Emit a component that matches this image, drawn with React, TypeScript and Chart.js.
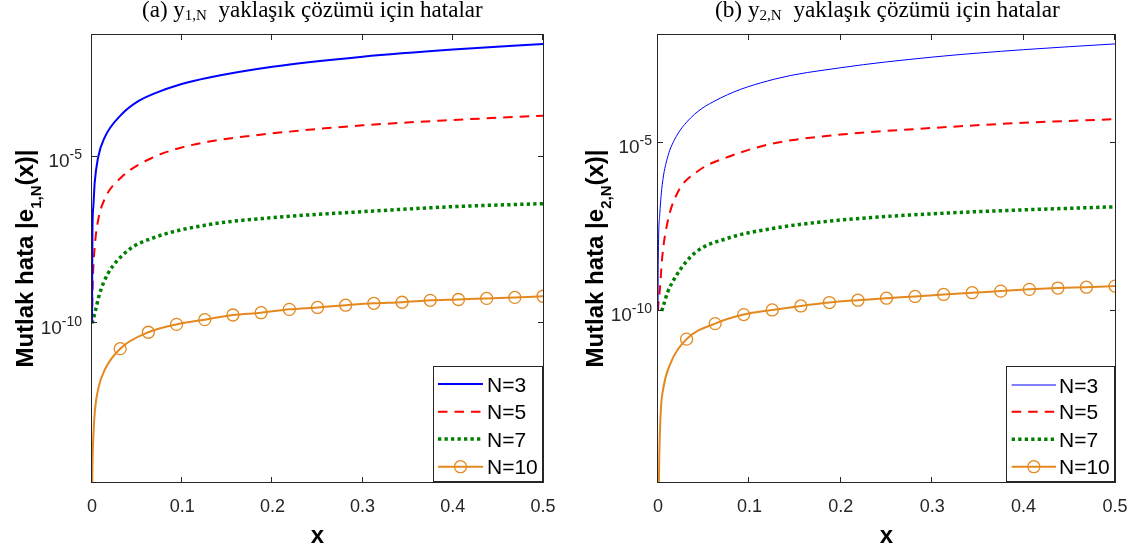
import React, { useEffect, useRef } from "react";
import { Chart, registerables } from "chart.js";
Chart.register(...registerables);

// ---------- shared labels / ticks ----------
const X_TICKS = [0, 0.1, 0.2, 0.3, 0.4, 0.5];
const X_TICK_LABELS = ["0", "0.1", "0.2", "0.3", "0.4", "0.5"];
const Y_TICKS = [1e-10, 1e-5];
const Y_TICK_EXP = ["-10", "-5"];
const LEGEND_LABELS = ["N=3", "N=5", "N=7", "N=10"];
const TITLE_REST = "  yaklaşık çözümü için hatalar";

// N=10 marker abscissae (every 1/32)
const N10_MARK_X = [0.03125, 0.0625, 0.09375, 0.125, 0.15625, 0.1875, 0.21875, 0.25, 0.28125, 0.3125, 0.34375, 0.375, 0.40625, 0.4375, 0.46875, 0.5];

// ---------- panel (a) ----------
const A_Y_MIN = 1.74e-15;
const A_Y_MAX = 4.47e-2;
const A_N3_X = [0, 0.0002, 0.0005, 0.0015, 0.003, 0.0067, 0.0141, 0.0325, 0.05, 0.0695, 0.0994, 0.1286, 0.2, 0.3, 0.4, 0.5];
const A_N3_Y = [1e-10, 2e-9, 6.3e-8, 3.2e-7, 1.66e-6, 9.3e-6, 3.8e-5, 1.82e-4, 4.4e-4, 7.9e-4, 1.51e-3, 2.34e-3, 5.0e-3, 1.0e-2, 1.64e-2, 2.4e-2];
const A_N5_X = [0, 0.0003, 0.0008, 0.003, 0.0067, 0.0141, 0.0325, 0.0695, 0.1, 0.1286, 0.2, 0.3, 0.4, 0.5];
const A_N5_Y = [1e-10, 3.2e-10, 1.6e-9, 1.95e-8, 1.2e-7, 5.4e-7, 2.4e-6, 1.0e-5, 1.9e-5, 2.8e-5, 5.0e-5, 8.7e-5, 1.26e-4, 1.7e-4];
const A_N7_X = [0, 0.003, 0.0085, 0.0177, 0.04, 0.0695, 0.1286, 0.2, 0.3, 0.4, 0.5];
const A_N7_Y = [1e-10, 1.95e-10, 7.8e-10, 3.1e-9, 1.55e-8, 3.8e-8, 9.1e-8, 1.48e-7, 2.24e-7, 3.16e-7, 3.9e-7];
const A_N10_LEAD_X = [0, 0.0003, 0.0015, 0.0033, 0.007, 0.0144];
const A_N10_LEAD_Y = [1e-16, 2e-15, 4e-14, 2.5e-13, 1.12e-12, 4.2e-12];
const A_N10_MARK_Y = [1.74e-11, 5.4e-11, 9.3e-11, 1.29e-10, 1.78e-10, 2.09e-10, 2.63e-10, 3.0e-10, 3.5e-10, 4.0e-10, 4.3e-10, 4.9e-10, 5.2e-10, 5.6e-10, 6.0e-10, 6.5e-10];

// ---------- panel (b) ----------
const B_Y_MIN = 8.1e-16;
const B_Y_MAX = 1.64e-2;
const B_N3_X = [0, 0.0003, 0.002, 0.0047, 0.0102, 0.0175, 0.0358, 0.0686, 0.127, 0.2, 0.3, 0.4, 0.5];
const B_N3_Y = [1e-10, 3.2e-9, 7.9e-8, 5.9e-7, 3.5e-6, 1.17e-5, 5.6e-5, 2.19e-4, 7.9e-4, 1.74e-3, 3.6e-3, 6.0e-3, 8.9e-3];
const B_N5_X = [0, 0.0005, 0.002, 0.0047, 0.0102, 0.0211, 0.043, 0.0795, 0.127, 0.2, 0.3, 0.4, 0.5];
const B_N5_Y = [1e-10, 1.7e-10, 4.2e-10, 4.2e-9, 4.1e-8, 3.2e-7, 1.41e-6, 4.1e-6, 9.8e-6, 1.78e-5, 2.8e-5, 4.0e-5, 5.1e-5];
const B_N7_X = [0.004, 0.007, 0.0102, 0.0193, 0.0394, 0.0758, 0.127, 0.2, 0.3, 0.4, 0.5];
const B_N7_Y = [1e-10, 1.8e-10, 3.4e-10, 1.05e-9, 5.1e-9, 1.45e-8, 2.9e-8, 5.1e-8, 7.8e-8, 1.02e-7, 1.26e-7];
const B_N10_LEAD_X = [0, 0.0014, 0.003, 0.0058, 0.013];
const B_N10_LEAD_Y = [1e-17, 4.6e-15, 1.0e-13, 5.0e-13, 2.5e-12];
const B_N10_MARK_Y = [1.45e-11, 4.2e-11, 7.8e-11, 1.07e-10, 1.41e-10, 1.78e-10, 2.09e-10, 2.4e-10, 2.7e-10, 3.1e-10, 3.5e-10, 3.9e-10, 4.4e-10, 4.8e-10, 5.1e-10, 5.5e-10];

// ---------- styling ----------
const W = 570;
const H = 552;
const SANS = '"Liberation Sans", Arial, sans-serif';
const SERIF = '"Liberation Serif", "DejaVu Serif", serif';
const AXIS_COLOR = "#262626";
const ORANGE = "#E3891F";

type Style = { color: string; width: number; dash: number[]; marker?: boolean };
const STYLES_A: Style[] = [
  { color: "#0000FF", width: 2, dash: [] },
  { color: "#FF0000", width: 2, dash: [9.5, 7] },
  { color: "#008000", width: 3.5, dash: [3.3, 3.2] },
  { color: ORANGE, width: 2, dash: [], marker: true },
];
const STYLES_B: Style[] = [
  { color: "#0000FF", width: 1, dash: [] },
  { color: "#FF0000", width: 2, dash: [9.5, 7] },
  { color: "#008000", width: 3.5, dash: [3.3, 3.2] },
  { color: ORANGE, width: 2, dash: [], marker: true },
];

type Series = { x: number[]; y: number[]; markerFrom?: number };
type Panel = {
  offsetX: number;
  plotLeft: number; plotRight: number; plotTop: number; plotBottom: number;
  yMin: number; yMax: number;
  series: Series[];
  styles: Style[];
  titleLetter: string; titleSub: string; titleLeft: number; titleRight: number;
  ylabelSub: string;
  legend: { x0: number; x1: number; y0: number; y1: number; lx0: number; lx1: number; tx: number; rows: number[] };
};

const PANEL_A: Panel = {
  offsetX: 0,
  plotLeft: 92, plotRight: 543, plotTop: 35, plotBottom: 482,
  yMin: A_Y_MIN, yMax: A_Y_MAX,
  series: [
    { x: A_N3_X, y: A_N3_Y },
    { x: A_N5_X, y: A_N5_Y },
    { x: A_N7_X, y: A_N7_Y },
    { x: [...A_N10_LEAD_X, ...N10_MARK_X], y: [...A_N10_LEAD_Y, ...A_N10_MARK_Y], markerFrom: A_N10_LEAD_X.length },
  ],
  styles: STYLES_A,
  titleLetter: "(a) ", titleSub: "1,N", titleLeft: 142, titleRight: 483,
  ylabelSub: "1,N",
  legend: { x0: 433, x1: 543, y0: 366, y1: 482, lx0: 438, lx1: 483, tx: 487, rows: [384, 411.7, 439, 466.7] },
};

const PANEL_B: Panel = {
  offsetX: 570,
  plotLeft: 88, plotRight: 545, plotTop: 35, plotBottom: 482,
  yMin: B_Y_MIN, yMax: B_Y_MAX,
  series: [
    { x: B_N3_X, y: B_N3_Y },
    { x: B_N5_X, y: B_N5_Y },
    { x: B_N7_X, y: B_N7_Y },
    { x: [...B_N10_LEAD_X, ...N10_MARK_X], y: [...B_N10_LEAD_Y, ...B_N10_MARK_Y], markerFrom: B_N10_LEAD_X.length },
  ],
  styles: STYLES_B,
  titleLetter: "(b) ", titleSub: "2,N", titleLeft: 145, titleRight: 490,
  ylabelSub: "2,N",
  legend: { x0: 436, x1: 545, y0: 366, y1: 482, lx0: 441.7, lx1: 486, tx: 489, rows: [385, 411.7, 439.3, 466.7] },
};

function overlayPlugin(p: Panel) {
  return {
    id: "overlay",
    afterDraw(chart: any) {
      const ctx: CanvasRenderingContext2D = chart.ctx;
      const { left, right, top, bottom } = chart.chartArea;
      const xs = chart.scales.x;
      const ys = chart.scales.y;
      ctx.save();
      // axes box
      ctx.strokeStyle = AXIS_COLOR;
      ctx.lineWidth = 1;
      ctx.setLineDash([]);
      ctx.strokeRect(left - 0.5, top - 0.5, right - left + 1, bottom - top + 1);
      // ticks (inward)
      ctx.beginPath();
      X_TICKS.forEach((v) => {
        const px = Math.round(xs.getPixelForValue(v)) - 0.5;
        ctx.moveTo(px, bottom); ctx.lineTo(px, bottom - 5);
        ctx.moveTo(px, top); ctx.lineTo(px, top + 5);
      });
      Y_TICKS.forEach((v) => {
        const py = Math.round(ys.getPixelForValue(v)) - 0.5;
        ctx.moveTo(left, py); ctx.lineTo(left + 5, py);
        ctx.moveTo(right, py); ctx.lineTo(right - 5, py);
      });
      ctx.stroke();
      // x tick labels
      ctx.fillStyle = AXIS_COLOR;
      ctx.font = `18px ${SANS}`;
      ctx.textAlign = "center";
      ctx.textBaseline = "alphabetic";
      X_TICKS.forEach((v, i) => {
        ctx.fillText(X_TICK_LABELS[i], xs.getPixelForValue(v), 512);
      });
      // y tick labels 10^k
      Y_TICKS.forEach((v, i) => {
        const py = ys.getPixelForValue(v);
        ctx.textAlign = "left";
        ctx.font = `19px ${SANS}`;
        const wb = ctx.measureText("10").width;
        ctx.font = `14px ${SANS}`;
        const we = ctx.measureText(Y_TICK_EXP[i]).width;
        const x0 = 82 - wb - we;
        ctx.font = `19px ${SANS}`;
        ctx.fillText("10", x0, py + 10.5);
        ctx.font = `14px ${SANS}`;
        ctx.fillText(Y_TICK_EXP[i], x0 + wb, py + 2.5);
      });
      // x label
      ctx.fillStyle = "#000";
      ctx.font = `bold 24px ${SANS}`;
      ctx.textAlign = "center";
      ctx.fillText("x", (left + right) / 2, 543);
      // y label (rotated)
      ctx.save();
      ctx.translate(33, (top + bottom) / 2);
      ctx.rotate(-Math.PI / 2);
      ctx.textAlign = "left";
      const p1 = "Mutlak hata |e";
      const p3 = "(x)|";
      ctx.font = `bold 24px ${SANS}`;
      const w1 = ctx.measureText(p1).width;
      const w3 = ctx.measureText(p3).width;
      ctx.font = `bold 15px ${SANS}`;
      const w2 = ctx.measureText(p.ylabelSub).width;
      let sx = -(w1 + w2 + w3) / 2;
      ctx.font = `bold 24px ${SANS}`;
      ctx.fillText(p1, sx, 0);
      sx += w1;
      ctx.font = `bold 15px ${SANS}`;
      ctx.fillText(p.ylabelSub, sx, 8);
      sx += w2;
      ctx.font = `bold 24px ${SANS}`;
      ctx.fillText(p3, sx, 0);
      ctx.restore();
      // title
      const measureTitle = (sz: number) => {
        ctx.font = `${sz}px ${SERIF}`;
        const a = ctx.measureText(p.titleLetter).width;
        const b = ctx.measureText("y").width;
        const d = ctx.measureText(TITLE_REST).width;
        ctx.font = `${sz * 0.65}px ${SERIF}`;
        const c = ctx.measureText(p.titleSub).width;
        return [a, b, c, d];
      };
      let parts = measureTitle(20);
      const tot = parts.reduce((s, v) => s + v, 0);
      const tsz = (20 * (p.titleRight - p.titleLeft)) / tot;
      parts = measureTitle(tsz);
      ctx.fillStyle = "#000";
      ctx.textAlign = "left";
      let tx = p.titleLeft;
      ctx.font = `${tsz}px ${SERIF}`;
      ctx.fillText(p.titleLetter, tx, 17);
      tx += parts[0];
      ctx.fillText("y", tx, 17);
      tx += parts[1];
      ctx.font = `${tsz * 0.65}px ${SERIF}`;
      ctx.fillText(p.titleSub, tx, 20);
      tx += parts[2];
      ctx.font = `${tsz}px ${SERIF}`;
      ctx.fillText(TITLE_REST, tx, 17);
      // legend
      const lg = p.legend;
      ctx.fillStyle = "#fff";
      ctx.fillRect(lg.x0, lg.y0, lg.x1 - lg.x0, lg.y1 - lg.y0);
      ctx.strokeStyle = AXIS_COLOR;
      ctx.lineWidth = 1;
      ctx.strokeRect(lg.x0 + 0.5, lg.y0 + 0.5, lg.x1 - lg.x0 - 1, lg.y1 - lg.y0 - 1);
      p.styles.forEach((st, i) => {
        const y = lg.rows[i];
        ctx.strokeStyle = st.color;
        ctx.lineWidth = st.width;
        ctx.setLineDash(st.dash);
        ctx.beginPath();
        ctx.moveTo(lg.lx0, y);
        ctx.lineTo(lg.lx1, y);
        ctx.stroke();
        ctx.setLineDash([]);
        if (st.marker) {
          ctx.lineWidth = 1.3;
          ctx.beginPath();
          ctx.arc((lg.lx0 + lg.lx1) / 2, y, 6, 0, Math.PI * 2);
          ctx.stroke();
        }
        ctx.fillStyle = "#000";
        ctx.font = `21px ${SANS}`;
        ctx.textAlign = "left";
        ctx.fillText(LEGEND_LABELS[i], lg.tx, y + 7.5);
      });
      ctx.restore();
    },
  };
}

function PanelChart({ p }: { p: Panel }) {
  const ref = useRef<HTMLCanvasElement | null>(null);
  useEffect(() => {
    if (!ref.current) return;
    const datasets = p.series.map((s, i) => {
      const st = p.styles[i];
      const radius = s.x.map((_, j) => (s.markerFrom !== undefined && j >= s.markerFrom ? 6 : 0));
      return {
        label: LEGEND_LABELS[i],
        data: s.x.map((x, j) => ({ x, y: s.y[j] })),
        borderColor: st.color,
        borderWidth: st.width,
        borderDash: st.dash,
        borderCapStyle: "butt",
        fill: false,
        cubicInterpolationMode: "monotone",
        pointRadius: radius,
        pointHoverRadius: radius,
        pointBorderColor: st.color,
        pointBackgroundColor: "rgba(0,0,0,0)",
        pointBorderWidth: 1.3,
      };
    });
    const chart = new Chart(ref.current, {
      type: "line",
      data: { datasets } as any,
      options: {
        responsive: false,
        animation: false,
        devicePixelRatio: 1,
        layout: { padding: { left: 0, right: W - p.plotRight, top: p.plotTop, bottom: 0 } },
        plugins: { legend: { display: false }, title: { display: false }, tooltip: { enabled: false } },
        events: [],
        scales: {
          x: {
            type: "linear",
            min: 0,
            max: 0.5,
            grid: { display: false },
            border: { display: false },
            ticks: { display: false },
            afterFit: (s: any) => { s.height = H - p.plotBottom; },
          },
          y: {
            type: "logarithmic",
            min: p.yMin,
            max: p.yMax,
            grid: { display: false },
            border: { display: false },
            ticks: { display: false },
            afterFit: (s: any) => { s.width = p.plotLeft; },
          },
        },
      } as any,
      plugins: [overlayPlugin(p)],
    });
    return () => chart.destroy();
  }, [p]);
  return (
    <canvas
      ref={ref}
      width={W}
      height={H}
      style={{ position: "absolute", left: p.offsetX, top: 0, width: W, height: H }}
    />
  );
}

export default function App() {
  return (
    <div style={{ position: "fixed", left: 0, top: 0, width: 1140, height: 552, background: "#fff" }}>
      <PanelChart p={PANEL_A} />
      <PanelChart p={PANEL_B} />
    </div>
  );
}
